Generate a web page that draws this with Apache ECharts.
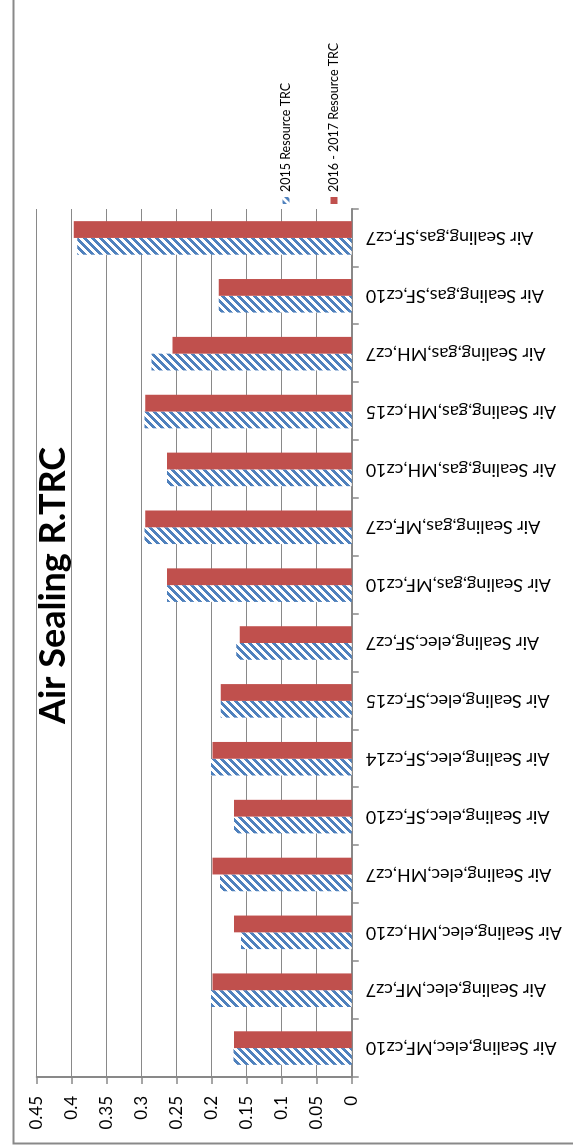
<!DOCTYPE html>
<html>
<head>
<meta charset="utf-8">
<title>Air Sealing R.TRC</title>
<script src="https://cdn.jsdelivr.net/npm/echarts@6/dist/echarts.min.js"></script>
<style>
  html, body { margin: 0; padding: 0; background: #ffffff; overflow: hidden; }
  body { width: 573px; height: 1148px; position: relative; }
  /* The column chart is laid out landscape and turned a quarter turn counter-clockwise */
  #chart {
    position: absolute; left: 0; top: 0;
    width: 1148px; height: 573px;
    transform-origin: 0 0;
    transform: translate(0, 1148px) rotate(-90deg);
  }
</style>
</head>
<body>
<div id="chart"></div>
<script>
const categories = [
  'Air Sealing,elec,MF,cz10',
  'Air Sealing,elec,MF,cz7',
  'Air Sealing,elec,MH,cz10',
  'Air Sealing,elec,MH,cz7',
  'Air Sealing,elec,SF,cz10',
  'Air Sealing,elec,SF,cz14',
  'Air Sealing,elec,SF,cz15',
  'Air Sealing,elec,SF,cz7',
  'Air Sealing,gas,MF,cz10',
  'Air Sealing,gas,MF,cz7',
  'Air Sealing,gas,MH,cz10',
  'Air Sealing,gas,MH,cz15',
  'Air Sealing,gas,MH,cz7',
  'Air Sealing,gas,SF,cz10',
  'Air Sealing,gas,SF,cz7'
];
const seriesNames = ['2015 Resource TRC', '2016 - 2017 Resource TRC'];
const trc2015 = [0.169, 0.201, 0.158, 0.188, 0.168, 0.201, 0.187, 0.165, 0.264, 0.296, 0.264, 0.296, 0.286, 0.190, 0.392];
const trc2016 = [0.168, 0.199, 0.168, 0.199, 0.168, 0.199, 0.187, 0.160, 0.264, 0.295, 0.264, 0.295, 0.256, 0.190, 0.397];
const valueTicks = { min: 0, max: 0.45, step: 0.05 };

// Diagonal hatch fill (white ground, blue stripes)
function hatchPattern(color) {
  const size = 8;
  const c = document.createElement('canvas');
  c.width = size; c.height = size;
  const ctx = c.getContext('2d');
  ctx.fillStyle = '#ffffff';
  ctx.fillRect(0, 0, size, size);
  ctx.fillStyle = color;
  for (let i = 0; i < size; i++) {
    for (let j = 0; j < size; j++) {
      if ((i + j) % size < 4) ctx.fillRect(i, j, 1, 1);
    }
  }
  return { image: c, repeat: 'repeat' };
}

const FONT = 'Lato, "Noto Sans", sans-serif';
const GRID_GRAY = '#898989';

const chart = echarts.init(document.getElementById('chart'), null, { renderer: 'canvas' });
chart.setOption({
  backgroundColor: '#ffffff',
  animation: false,
  title: {
    text: 'Air Sealing R.TRC',
    left: 419,
    top: 30,
    textStyle: { fontFamily: FONT, fontSize: 36, fontWeight: 'bold', color: '#000000' }
  },
  legend: {
    orient: 'vertical',
    left: 939,
    top: 273,
    itemWidth: 7,
    itemHeight: 7,
    itemGap: 32,
    icon: 'rect',
    textStyle: { fontFamily: FONT, fontSize: 12.5, color: '#000000', lineHeight: 16 },
    data: seriesNames
  },
  graphic: [{
    type: 'rect',
    shape: { x: 4.5, y: 13.5, width: 1300, height: 700 },
    style: { fill: 'none', stroke: GRID_GRAY, lineWidth: 2 },
    silent: true,
    z: 100
  }],
  grid: { left: 71, right: 209, top: 36.7, bottom: 221.3, containLabel: false },
  xAxis: {
    type: 'category',
    data: categories,
    boundaryGap: true,
    axisLine: { show: true, lineStyle: { color: GRID_GRAY, width: 2 } },
    axisTick: { show: true, length: 7, inside: false, lineStyle: { color: GRID_GRAY, width: 1.5 } },
    axisLabel: {
      interval: 0,
      rotate: 90,
      margin: 14,
      fontFamily: FONT,
      fontSize: 18,
      color: '#000000'
    },
    splitLine: { show: false }
  },
  yAxis: {
    type: 'value',
    min: valueTicks.min,
    max: valueTicks.max,
    interval: valueTicks.step,
    axisLine: { show: true, lineStyle: { color: GRID_GRAY, width: 2 } },
    axisTick: { show: true, length: 7, inside: false, lineStyle: { color: GRID_GRAY, width: 1.5 } },
    axisLabel: {
      margin: 19,
      fontFamily: FONT,
      fontSize: 17,
      color: '#000000',
      formatter: v => String(+v.toFixed(2))
    },
    splitLine: { show: true, lineStyle: { color: GRID_GRAY, width: 1 } }
  },
  series: [
    {
      name: seriesNames[0],
      type: 'bar',
      data: trc2015,
      barGap: '0%',
      barCategoryGap: '42%',
      itemStyle: { color: hatchPattern('#4f81bd') }
    },
    {
      name: seriesNames[1],
      type: 'bar',
      data: trc2016,
      barGap: '0%',
      barCategoryGap: '42%',
      itemStyle: { color: '#c0504d' }
    }
  ]
});
</script>
</body>
</html>
